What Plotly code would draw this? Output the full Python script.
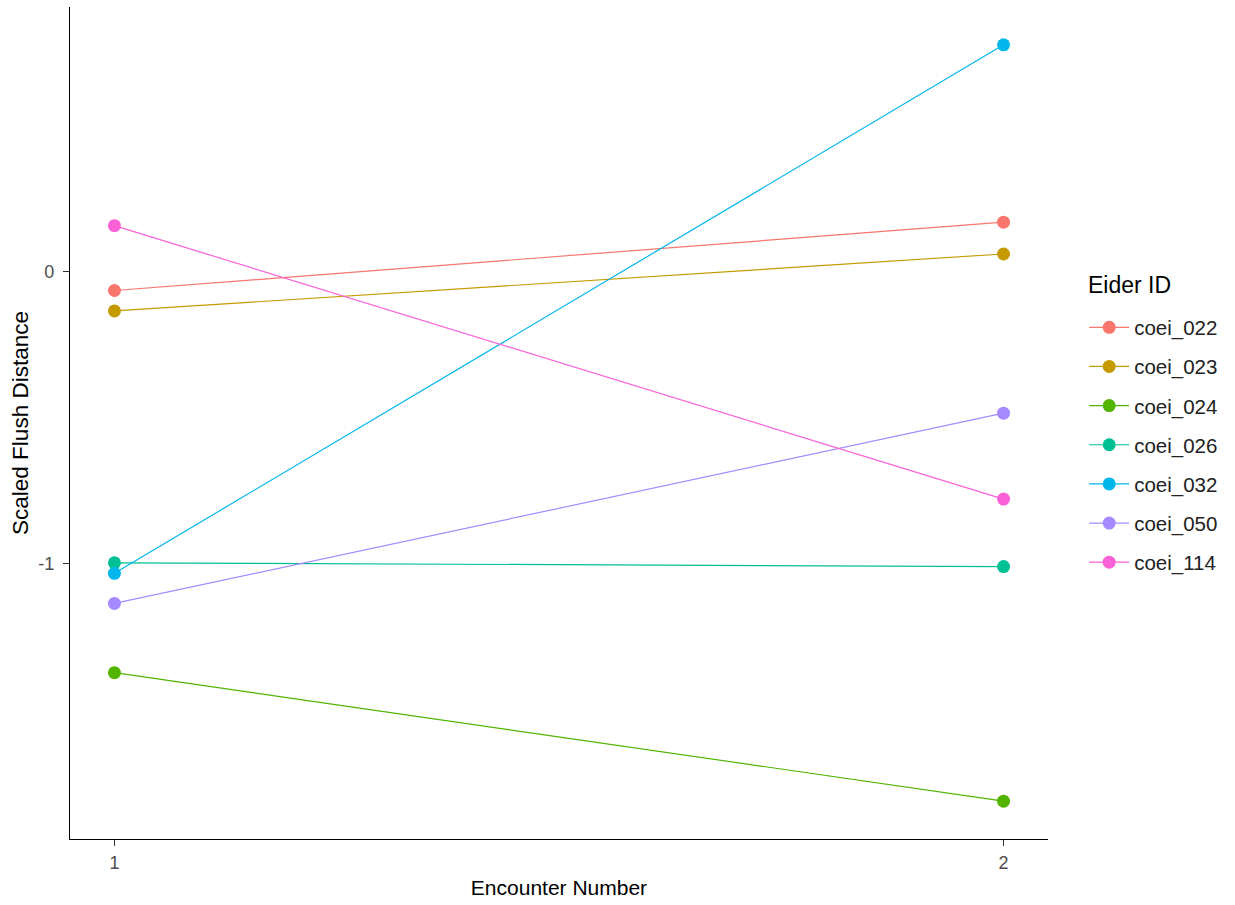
import plotly.graph_objects as go

# Scaled flush distance for each eider at encounters 1 and 2
encounters = [1, 2]
eider_ids = ["coei_022", "coei_023", "coei_024", "coei_026", "coei_032", "coei_050", "coei_114"]
encounter_1 = [-0.064, -0.134, -1.372, -0.996, -1.032, -1.135, 0.158]
encounter_2 = [0.170, 0.061, -1.812, -1.009, 0.777, -0.484, -0.778]
colors = ["#F8766D", "#C49A00", "#53B400", "#00C094", "#00B6EB", "#A58AFF", "#FB61D7"]

FONT = "Liberation Sans, Arial, sans-serif"

fig = go.Figure()
for eid, a, b, c in zip(eider_ids, encounter_1, encounter_2, colors):
    fig.add_trace(go.Scatter(
        x=encounters, y=[a, b], mode="lines+markers", name=eid,
        legendgroup=eid,
        line=dict(color=c, width=1.2),
        marker=dict(color=c, size=13),
    ))

all_y = encounter_1 + encounter_2
lo, hi = min(all_y), max(all_y)
pad = (hi - lo) * 0.05

# legend heading drawn as its own label so its spacing above the keys can be set
fig.add_annotation(
    text="Eider ID", xref="paper", yref="paper",
    x=1.039, y=0.666, xanchor="left", yanchor="middle",
    showarrow=False, font=dict(size=23, color="#000000"),
)

fig.update_layout(
    width=1235, height=905,
    margin=dict(l=70, r=187, t=7, b=66, autoexpand=False),
    plot_bgcolor="white", paper_bgcolor="white",
    font=dict(family=FONT, color="#000000"),
    showlegend=True,
    legend=dict(
        font=dict(size=20.5, color="#222222"),
        x=1.037, xanchor="left", y=0.4736, yanchor="middle",
        tracegroupgap=9.5,
        itemwidth=40,
    ),
    xaxis=dict(
        range=[0.95, 2.05], tickvals=encounters, ticktext=["1", "2"],
        showgrid=False, zeroline=False,
        showline=True, linecolor="#000000", linewidth=1.2,
        ticks="outside", ticklen=6, tickcolor="#333333",
        ticklabelstandoff=1,
        tickfont=dict(size=18, color="#4D4D4D"),
        title=dict(text="Encounter Number", font=dict(size=21, color="#000000"), standoff=8),
    ),
    yaxis=dict(
        range=[lo - pad, hi + pad], tickvals=[-1, 0], ticktext=["-1", "0"],
        showgrid=False, zeroline=False,
        showline=True, linecolor="#000000", linewidth=1.2,
        ticks="outside", ticklen=6, tickcolor="#333333",
        ticklabelstandoff=5,
        tickfont=dict(size=18, color="#4D4D4D"),
        title=dict(text="Scaled Flush Distance", font=dict(size=22.5, color="#000000"), standoff=3),
    ),
)

fig.write_html("out.html")
